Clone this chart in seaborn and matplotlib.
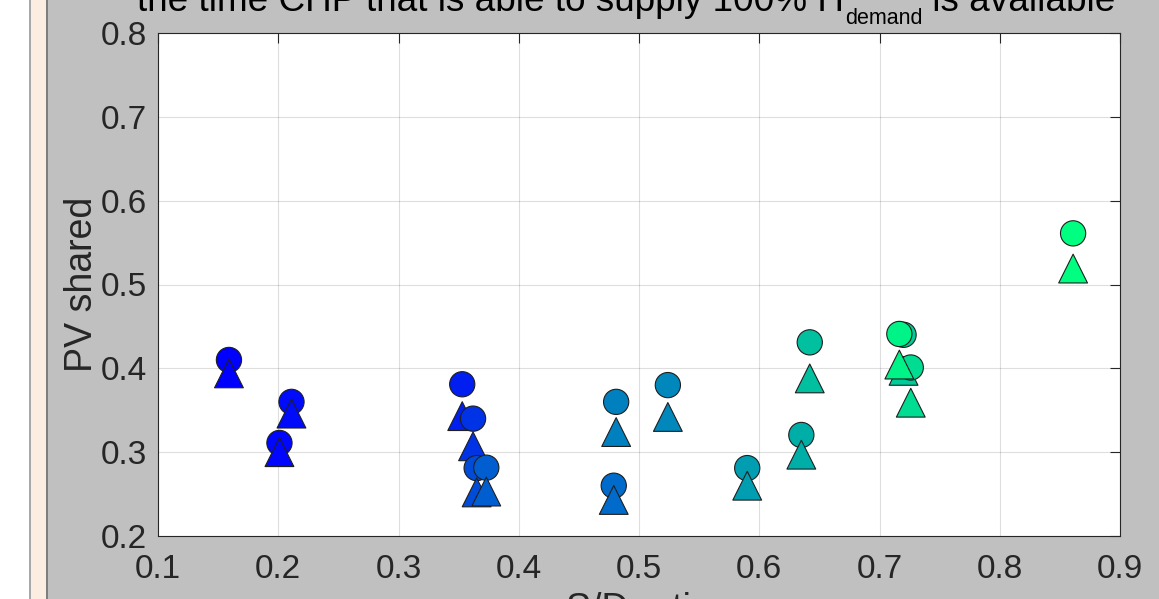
import matplotlib
matplotlib.use("Agg")
import matplotlib.pyplot as plt
from matplotlib.patches import Rectangle
import numpy as np
import pandas as pd
import seaborn as sns

# S/D ratio of each case (one circle + one triangle per case)
sd_ratio = [0.159, 0.211, 0.201, 0.353, 0.362, 0.365, 0.373, 0.481, 0.479,
            0.524, 0.590, 0.635, 0.642, 0.720, 0.726, 0.7165, 0.861]
# PV shared, circle marker series
pv_shared_circle = [0.410, 0.360, 0.311, 0.381, 0.340, 0.281, 0.2815, 0.360, 0.260,
                    0.380, 0.281, 0.3205, 0.431, 0.440, 0.401, 0.441, 0.561]
# PV shared, triangle marker series
pv_shared_triangle = [0.394, 0.346, 0.300, 0.343, 0.307, 0.252, 0.253, 0.324, 0.243,
                      0.342, 0.260, 0.297, 0.388, 0.397, 0.359, 0.4045, 0.519]
# colour value of each case on the winter colormap
case_colour = [0.00, 0.05, 0.03, 0.12, 0.20, 0.30, 0.37, 0.50, 0.42,
               0.53, 0.62, 0.68, 0.75, 0.80, 0.86, 0.95, 1.00]

x_ticks = [0.1, 0.2, 0.3, 0.4, 0.5, 0.6, 0.7, 0.8, 0.9]
x_tick_labels = ["0.1", "0.2", "0.3", "0.4", "0.5", "0.6", "0.7", "0.8", "0.9"]
y_ticks = [0.2, 0.3, 0.4, 0.5, 0.6, 0.7, 0.8]
y_tick_labels = ["0.2", "0.3", "0.4", "0.5", "0.6", "0.7", "0.8"]

# title pieces: main text, subscript, tail
title_main = "the time CHP that is able to supply 100% H"
title_sub = "demand"
title_tail = " is available"
x_label = "S/D ratio"
y_label = "PV shared"

sns.set_theme(style="white")
plt.rcParams["font.family"] = ["Liberation Sans", "DejaVu Sans"]

# long-form table: circle then triangle for each case, in drawing order
rows = []
for x, yc, yt, c in zip(sd_ratio, pv_shared_circle, pv_shared_triangle, case_colour):
    rows.append({"sd": x, "pv": yc, "kind": "circle", "c": c})
    rows.append({"sd": x, "pv": yt, "kind": "triangle", "c": c})
df = pd.DataFrame(rows)

W, H = 1159, 599
fig = plt.figure(figsize=(W / 100, H / 100), dpi=100, facecolor="#C0C0C0")

# left-hand panel strip
fig.patches.append(Rectangle((0, 0), 29 / W, 1, transform=fig.transFigure,
                             facecolor="white", edgecolor="none", zorder=0))
fig.patches.append(Rectangle((29 / W, 0), 2 / W, 1, transform=fig.transFigure,
                             facecolor="#A8A8A8", edgecolor="none", zorder=0))
fig.patches.append(Rectangle((31 / W, 0), 15 / W, 1, transform=fig.transFigure,
                             facecolor="#FCEDE3", edgecolor="none", zorder=0))
fig.patches.append(Rectangle((46 / W, 0), 2 / W, 1, transform=fig.transFigure,
                             facecolor="#7E7E7E", edgecolor="none", zorder=0))

ax = fig.add_axes([158 / W, 63 / H, 962 / W, 503 / H])
ax.set_facecolor("white")

sns.scatterplot(data=df, x="sd", y="pv", hue="c", palette="winter", hue_norm=(0, 1),
                style="kind", markers={"circle": "o", "triangle": "^"},
                size="kind", sizes={"circle": 330, "triangle": 430},
                edgecolor="#1E1E1E", linewidth=0.8, legend=False, ax=ax, zorder=3)

ax.set_xlim(0.1, 0.9)
ax.set_ylim(0.2, 0.8)
ax.set_xticks(x_ticks)
ax.set_xticklabels(x_tick_labels)
ax.set_yticks(y_ticks)
ax.set_yticklabels(y_tick_labels)

ax.grid(True, color="#262626", alpha=0.15, linewidth=0.8)
ax.set_axisbelow(True)
for s in ax.spines.values():
    s.set_color("#262626")
    s.set_linewidth(0.8)
    s.set_visible(True)
ax.tick_params(direction="in", length=7, width=0.8, top=True, right=True,
               labelsize=24, colors="#262626")
ax.tick_params(axis="y", pad=8)
ax.tick_params(axis="x", pad=13)

ax.set_xlabel(x_label, fontsize=27, color="#262626")
ax.xaxis.set_label_coords(0.5, -0.1123)
ax.set_ylabel(y_label, fontsize=27, color="#262626")
ax.yaxis.set_label_coords(-0.0603, 0.5)

# title line built from pieces so the subscript sits low, as in TeX-style labels
renderer = fig.canvas.get_renderer()
base_y = 1 - 11 / H
t1 = fig.text(137 / W, base_y, title_main, ha="left", va="baseline",
              fontsize=26.6, color="black")
x_px = t1.get_window_extent(renderer).x1
t2 = fig.text((x_px + 1) / W, base_y - 13 / H, title_sub, ha="left", va="baseline",
              fontsize=15.5, color="black")
x_px = t2.get_window_extent(renderer).x1
fig.text(x_px / W, base_y, title_tail, ha="left", va="baseline",
         fontsize=26.6, color="black")

fig.savefig("out.png", dpi=100, facecolor=fig.get_facecolor())
